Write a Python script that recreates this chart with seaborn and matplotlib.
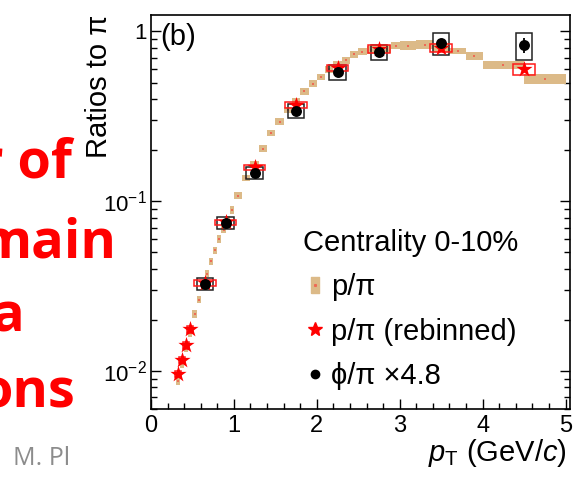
import numpy as np
import pandas as pd
import matplotlib
matplotlib.use("Agg")
import matplotlib.pyplot as plt
import seaborn as sns
from matplotlib.lines import Line2D
from matplotlib.legend_handler import HandlerTuple
from matplotlib.ticker import FixedLocator, FixedFormatter, MultipleLocator, LogLocator, NullFormatter

# ---------------- data ----------------
# p/pi (fine bins): bin edges in pT and ratio values
pp_edges = [0.30, 0.35, 0.40, 0.45, 0.50, 0.55, 0.60, 0.65, 0.70, 0.75, 0.80, 0.85, 0.90, 0.95, 1.00,
            1.1, 1.2, 1.3, 1.4, 1.5, 1.6, 1.7, 1.8, 1.9, 2.0, 2.1, 2.2, 2.3, 2.4, 2.5, 2.6, 2.7, 2.8, 2.9, 3.0,
            3.2, 3.4, 3.6, 3.8, 4.0, 4.5, 5.0]
pp_val = [0.0087, 0.0110, 0.0136, 0.0168, 0.0217, 0.0263, 0.0315, 0.0375, 0.0443, 0.0515, 0.060, 0.068, 0.078, 0.089,
          0.108, 0.137, 0.166, 0.204, 0.252, 0.294, 0.345, 0.390, 0.443, 0.492, 0.540, 0.600, 0.645, 0.675, 0.735,
          0.760, 0.780, 0.795, 0.790, 0.825,
          0.825, 0.835, 0.810, 0.770, 0.720,
          0.635, 0.526]
pp_syst = [0.05, 0.05, 0.05, 0.05, 0.05, 0.05, 0.05, 0.05, 0.05, 0.05, 0.05, 0.05, 0.05, 0.05,
           0.045, 0.045, 0.045, 0.045, 0.045, 0.045, 0.045, 0.045, 0.045, 0.045, 0.045, 0.045, 0.045, 0.045, 0.045,
           0.045, 0.05, 0.05, 0.05, 0.05,
           0.06, 0.06, 0.06, 0.04, 0.055,
           0.06, 0.07]

# p/pi rebinned
reb_pt = [0.325, 0.375, 0.425, 0.475, 0.65, 0.9, 1.25, 1.75, 2.25, 2.75, 3.5, 4.5]
reb_val = [0.0096, 0.0116, 0.0142, 0.0176, 0.033, 0.075, 0.158, 0.37, 0.61, 0.79, 0.80, 0.60]
reb_syst = [0.045, 0.045, 0.045, 0.045, 0.045, 0.04, 0.04, 0.045, 0.045, 0.05, 0.06, 0.075]
reb_width = [0.07, 0.07, 0.07, 0.07, 0.26, 0.26, 0.26, 0.26, 0.26, 0.26, 0.26, 0.26]

# phi/pi x 4.8
phi_pt = [0.65, 0.9, 1.25, 1.75, 2.25, 2.75, 3.5, 4.5]
phi_val = [0.0327, 0.0748, 0.147, 0.342, 0.578, 0.757, 0.857, 0.833]
phi_stat = [0.02, 0.02, 0.02, 0.02, 0.02, 0.025, 0.04, 0.105]
phi_syst = [0.08, 0.08, 0.08, 0.10, 0.10, 0.10, 0.15, 0.18]
phi_width = 0.2

x_ticks = [0, 1, 2, 3, 4, 5]
y_ticks = [0.01, 0.1, 1]
y_ticklabels = [r"$10^{-2}$", r"$10^{-1}$", "1"]

legend_title = "Centrality 0-10%"
legend_labels = ["p/π", "p/π (rebinned)", "ϕ/π ×4.8"]
slide_words = ["r of", "main", "a", "ons"]
author = "M. Pl"

# ---------------- style ----------------
sns.set_theme(style="ticks")
plt.rcParams["font.family"] = ["Liberation Sans", "DejaVu Sans"]
plt.rcParams["mathtext.fontset"] = "custom"
plt.rcParams["mathtext.rm"] = "Liberation Sans"
plt.rcParams["mathtext.it"] = "Liberation Sans:italic"
plt.rcParams["mathtext.bf"] = "Liberation Sans:bold"
plt.rcParams["text.color"] = "black"
plt.rcParams["axes.labelcolor"] = "black"
plt.rcParams["xtick.color"] = "black"
plt.rcParams["ytick.color"] = "black"
plt.rcParams["legend.labelcolor"] = "black"

TAN = "#dcba88"
DOT = "#ee6a55"

W, H = 578, 484
fig = plt.figure(figsize=(W / 100, H / 100), dpi=100)
fig.patch.set_facecolor("white")
ax = fig.add_axes([151 / W, 1 - 409 / H, 419 / W, 394 / H])
ax.set_facecolor("white")

# p/pi fine bins
e = np.array(pp_edges)
df_pp = pd.DataFrame({"pt": (e[:-1] + e[1:]) / 2, "w": e[1:] - e[:-1],
                      "val": pp_val, "syst": pp_syst})
ax.bar(df_pp["pt"], df_pp["val"] * 2 * df_pp["syst"], bottom=df_pp["val"] * (1 - df_pp["syst"]),
       width=df_pp["w"], color=TAN, linewidth=0, zorder=1)
sns.scatterplot(data=df_pp, x="pt", y="val", marker="s", s=3, color=DOT, linewidth=0,
                ax=ax, zorder=2, legend=False)

# phi boxes
df_phi = pd.DataFrame({"pt": phi_pt, "val": phi_val, "stat": phi_stat, "syst": phi_syst})
ax.bar(df_phi["pt"], df_phi["val"] * 2 * df_phi["syst"], bottom=df_phi["val"] * (1 - df_phi["syst"]),
       width=phi_width, fill=False, edgecolor="#222222", linewidth=1.1, zorder=4)

# rebinned boxes
df_reb = pd.DataFrame({"pt": reb_pt, "val": reb_val, "syst": reb_syst, "w": reb_width})
ax.bar(df_reb["pt"], df_reb["val"] * 2 * df_reb["syst"], bottom=df_reb["val"] * (1 - df_reb["syst"]),
       width=df_reb["w"], fill=False, edgecolor="#ff1a1a", linewidth=1.1, zorder=5)
sns.scatterplot(data=df_reb, x="pt", y="val", marker="*", s=150, color="#ff0000", linewidth=0,
                ax=ax, zorder=6, legend=False)

# phi points
ax.errorbar(df_phi["pt"], df_phi["val"], yerr=df_phi["val"] * df_phi["stat"], fmt="none",
            ecolor="black", elinewidth=1.3, capsize=0, zorder=7)
sns.scatterplot(data=df_phi, x="pt", y="val", marker="o", s=62, color="black", linewidth=0,
                ax=ax, zorder=8, legend=False)

# axes
ax.set_yscale("log")
ax.set_xlim(0, 5.054)
ax.set_ylim(0.00597, 1.25)
ax.xaxis.set_major_locator(FixedLocator(x_ticks))
ax.xaxis.set_minor_locator(MultipleLocator(0.2))
ax.yaxis.set_major_locator(FixedLocator(y_ticks))
ax.yaxis.set_major_formatter(FixedFormatter(y_ticklabels))
ax.yaxis.set_minor_locator(LogLocator(base=10, subs=np.arange(2, 10)))
ax.yaxis.set_minor_formatter(NullFormatter())
ax.tick_params(which="both", direction="in", left=True, right=True, top=False, bottom=True,
               color="black", width=1.0)
ax.tick_params(which="major", length=7)
ax.tick_params(which="minor", length=4)
ax.tick_params(axis="x", labelsize=17, pad=4, labelcolor="black")
ax.tick_params(axis="y", labelsize=16, pad=3, labelcolor="black")
for sp in ax.spines.values():
    sp.set_color("black")
    sp.set_linewidth(1.2)
    sp.set_visible(True)

ax.set_xlabel(r"$p_{\mathrm{T}}$ (GeV/$c$)", fontsize=21, loc="right", color="black")
ax.xaxis.set_label_coords(0.993, -0.07)
ax.set_ylabel("Ratios to π", fontsize=21, loc="top", color="black")
ax.yaxis.set_label_coords(-0.09, 1.0)

ax.text(0.021, 0.943, "(b)", transform=ax.transAxes, fontsize=21, ha="left", va="center", color="black")

# legend
rect = [(-0.27, -0.5), (0.27, -0.5), (0.27, 0.5), (-0.27, 0.5), (-0.27, -0.5)]
h_tan = (Line2D([], [], marker=rect, ms=11, color=TAN, ls=""),
         Line2D([], [], marker="s", ms=1.2, color=DOT, ls=""))
h_star = Line2D([], [], marker="*", ms=10, color="#ff0000", ls="")
h_phi = Line2D([], [], marker="o", ms=6, color="black", ls="")
leg = ax.legend([h_tan, h_star, h_phi], legend_labels, title=legend_title,
                loc="upper left", bbox_to_anchor=(303 / W, 1 - 229 / H), bbox_transform=fig.transFigure,
                frameon=False, fontsize=21, title_fontsize=21, handlelength=0.8, handletextpad=0.15,
                labelspacing=0.56, borderpad=0, borderaxespad=0,
                handler_map={tuple: HandlerTuple(ndivide=1, pad=0)})
leg._legend_box.align = "left"
leg.get_title().set_color("black")
for t in leg.get_texts():
    t.set_color("black")

# overlapping slide text
for word, xr, yb in zip(slide_words, [72, 117, 25, 75], [178, 257, 332, 408]):
    fig.text(xr / W, 1 - yb / H, word, fontsize=39, fontweight="bold", family=["Open Sans", "DejaVu Sans"],
             color="#ff0000", ha="right", va="baseline")
fig.text(13 / W, 1 - 465 / H, author, fontsize=18, family=["Open Sans", "DejaVu Sans"],
         color="#8c8c8c", ha="left", va="baseline")

fig.savefig("out.png", dpi=100, facecolor="white")
